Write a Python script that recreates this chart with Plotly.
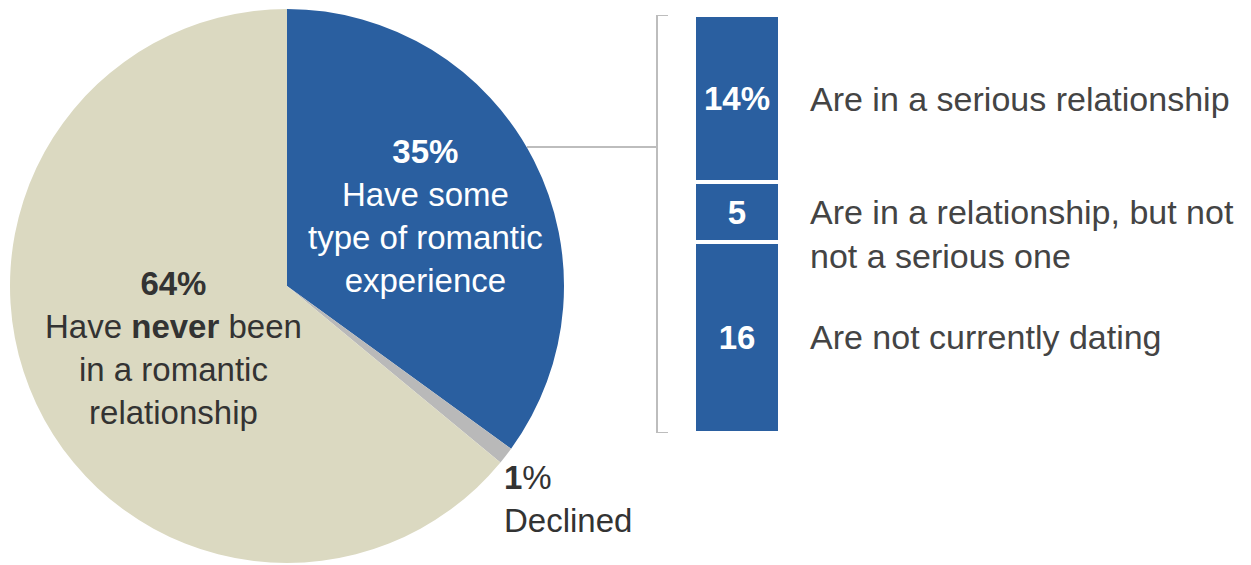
import plotly.graph_objects as go

# The page body has an 8px margin, so the figure is drawn 8px in from the window edge.
OFF = 8
W, H = 1251 - OFF, 565 - OFF

# ---- data ----
pie_labels = ["Have some type of romantic experience", "Declined",
              "Have never been in a romantic relationship"]
pie_values = [35, 1, 64]
pie_colors = ["#2a5fa0", "#b9b9b9", "#dbd9c1"]

bar_labels = ["Are in a serious relationship",
              "Are in a relationship, but not<br>not a serious one",
              "Are not currently dating"]
bar_values = [14, 5, 16]
bar_texts = ["14%", "5", "16"]

FONT = "Liberation Sans, Arial, sans-serif"
DARK = "#333333"
LABEL = "#444444"


def px(x):
    return (x - OFF) / W


def py(y):
    return 1 - (y - OFF) / H


fig = go.Figure()

fig.add_trace(go.Pie(
    labels=pie_labels, values=pie_values, sort=False, direction="clockwise",
    rotation=0, marker=dict(colors=pie_colors, line=dict(width=0)),
    textinfo="none", hoverinfo="skip", showlegend=False,
    domain=dict(x=[px(10), px(564)], y=[py(563), py(9)]),
))

for val, txt in zip(bar_values, bar_texts):
    fig.add_trace(go.Bar(
        x=[0], y=[val], width=1, orientation="v",
        marker=dict(color="#2a5fa0", line=dict(color="white", width=4)),
        text=[txt], textposition="inside", insidetextanchor="middle",
        constraintext="none", textangle=0,
        textfont=dict(family=FONT, size=33, color="white", weight="bold"),
        hoverinfo="skip", showlegend=False, xaxis="x", yaxis="y",
    ))

total = sum(bar_values)
annotations = []
cum = 0
for val, lab in zip(bar_values, bar_labels):
    center = cum + val / 2
    cum += val
    two = "<br>" in lab
    annotations.append(dict(
        x=px(808), xref="paper", y=center, yref="y", text=lab,
        xanchor="left", yanchor="middle", align="left", showarrow=False,
        yshift=-22 if two else 0,
        font=dict(family=FONT, size=34, color=LABEL),
    ))

# pie annotations
annotations.append(dict(
    x=px(425), y=py(216), xref="paper", yref="paper",
    text=f"<b>{pie_values[0]}%</b><br>Have some<br>type of romantic<br>experience",
    showarrow=False, align="center", xanchor="center", yanchor="middle",
    font=dict(family=FONT, size=33, color="white"),
))
annotations.append(dict(
    x=px(173), y=py(348), xref="paper", yref="paper",
    text=f"<b>{pie_values[2]}%</b><br>Have <b>never</b> been<br>in a romantic<br>relationship",
    showarrow=False, align="center", xanchor="center", yanchor="middle",
    font=dict(family=FONT, size=33, color=DARK),
))
annotations.append(dict(
    x=px(502), y=py(499), xref="paper", yref="paper",
    text=f"<b>{pie_values[1]}</b>%<br>Declined",
    showarrow=False, align="left", xanchor="left", yanchor="middle",
    font=dict(family=FONT, size=33, color=DARK),
))

line = dict(color="#bdbdbd", width=2)
shapes = [
    dict(type="line", xref="paper", yref="y", x0=px(657), x1=px(657),
         y0=0, y1=total, line=line),
    dict(type="line", xref="paper", yref="y", x0=px(657), x1=px(668),
         y0=0, y1=0, line=line),
    dict(type="line", xref="paper", yref="y", x0=px(657), x1=px(668),
         y0=total, y1=total, line=line),
    dict(type="line", xref="paper", yref="paper", x0=px(527), x1=px(657),
         y0=py(147), y1=py(147), line=line),
]

fig.update_layout(
    width=W, height=H, margin=dict(l=0, r=0, t=0, b=0),
    paper_bgcolor="white", plot_bgcolor="white",
    barmode="stack", bargap=0,
    xaxis=dict(domain=[px(694), px(780)], range=[-0.5, 0.5], visible=False,
               fixedrange=True),
    yaxis=dict(domain=[py(433), py(15)], range=[total, 0], visible=False,
               fixedrange=True),
    annotations=annotations, shapes=shapes,
    font=dict(family=FONT),
)

fig.write_html("out.html")
